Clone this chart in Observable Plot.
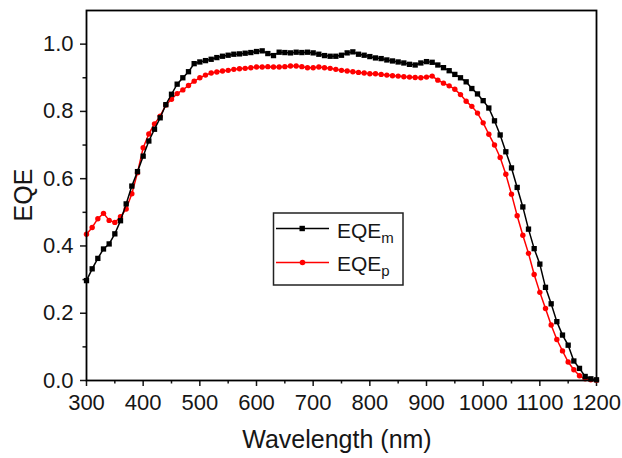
<!DOCTYPE html>
<html>
<head>
<meta charset="utf-8">
<script src="https://cdn.jsdelivr.net/npm/d3@7"></script>
<script src="https://cdn.jsdelivr.net/npm/@observablehq/plot@0.6"></script>
<style>
  html, body { margin: 0; padding: 0; background: #fff; }
  #chart { width: 622px; height: 458px; }
</style>
</head>
<body>
<div id="chart"></div>
<script>
// Wavelengths (nm), one marker every 10 nm
const wavelength = d3.range(300, 1201, 10);

// EQE_m (black squares)
const eqeM = [
  0.297, 0.332, 0.363, 0.391, 0.406, 0.436, 0.475, 0.525, 0.578, 0.621,
  0.667, 0.712, 0.747, 0.781, 0.820, 0.851, 0.881, 0.900, 0.918, 0.942,
  0.947, 0.951, 0.955, 0.960, 0.964, 0.967, 0.970, 0.971, 0.973, 0.975,
  0.978, 0.980, 0.972, 0.966, 0.976, 0.975, 0.974, 0.976, 0.975, 0.976,
  0.974, 0.970, 0.966, 0.964, 0.964, 0.967, 0.974, 0.977, 0.970, 0.967,
  0.963, 0.959, 0.957, 0.953, 0.950, 0.947, 0.944, 0.940, 0.938, 0.944,
  0.948, 0.946, 0.938, 0.930, 0.921, 0.910, 0.900, 0.888, 0.868, 0.852,
  0.832, 0.810, 0.772, 0.730, 0.680, 0.632, 0.574, 0.516, 0.450, 0.392,
  0.346, 0.277, 0.228, 0.175, 0.135, 0.105, 0.058, 0.036, 0.012, 0.005,
  0.002
];

// EQE_p (red circles)
const eqeP = [
  0.435, 0.455, 0.481, 0.497, 0.476, 0.470, 0.487, 0.510, 0.555, 0.618,
  0.692, 0.733, 0.763, 0.786, 0.819, 0.836, 0.853, 0.864, 0.877, 0.890,
  0.900, 0.908, 0.914, 0.917, 0.920, 0.922, 0.925, 0.927, 0.928, 0.930,
  0.932, 0.932, 0.933, 0.932, 0.932, 0.933, 0.935, 0.935, 0.933, 0.930,
  0.930, 0.932, 0.930, 0.928, 0.925, 0.922, 0.920, 0.918, 0.916, 0.914,
  0.912, 0.912, 0.910, 0.908, 0.906, 0.905, 0.903, 0.902, 0.901, 0.900,
  0.902, 0.905, 0.893, 0.884, 0.876, 0.866, 0.850, 0.830, 0.815, 0.795,
  0.766, 0.732, 0.700, 0.663, 0.613, 0.554, 0.490, 0.432, 0.378, 0.315,
  0.262, 0.214, 0.165, 0.122, 0.088, 0.055, 0.032, 0.014, 0.005, 0.002,
  0.001
];

const xMajor = [300, 400, 500, 600, 700, 800, 900, 1000, 1100, 1200];
const xMinor = [350, 450, 550, 650, 750, 850, 950, 1050, 1150];
const yMajor = [0.0, 0.2, 0.4, 0.6, 0.8, 1.0];
const yMinor = [0.1, 0.3, 0.5, 0.7, 0.9];
const xTitle = "Wavelength (nm)";
const yTitle = "EQE";

const seriesM = wavelength.map((w, i) => ({w, v: eqeM[i]}));
const seriesP = wavelength.map((w, i) => ({w, v: eqeP[i]}));

const FONT = "'Liberation Sans', Arial, Helvetica, sans-serif";
const INK = "#161616";

const chart = Plot.plot({
  width: 622,
  height: 458,
  marginLeft: 86,
  marginRight: 26,
  marginTop: 10,
  marginBottom: 78,
  style: {fontFamily: FONT, fontSize: "22px", color: INK, background: "#fff"},
  x: {domain: [300, 1200]},
  y: {domain: [0, 1.1]},
  marks: [
    Plot.axisX({ticks: xMajor, tickSize: 6, tickPadding: 8, fontSize: 22, label: null, tickFormat: d => String(d), strokeWidth: 1.5}),
    Plot.axisX({ticks: xMinor, tickSize: 3.5, text: null, label: null, strokeWidth: 1.5}),
    Plot.axisY({ticks: yMajor, tickSize: 6, tickPadding: 7, fontSize: 22, label: null, tickFormat: d3.format(".1f"), strokeWidth: 1.5}),
    Plot.axisY({ticks: yMinor, tickSize: 3.5, text: null, label: null, strokeWidth: 1.5}),
    Plot.line(seriesP, {x: "w", y: "v", stroke: "#ff0000", strokeWidth: 1.5}),
    Plot.dot(seriesP, {x: "w", y: "v", fill: "#ff0000", r: 2.7, symbol: "circle"}),
    Plot.line(seriesM, {x: "w", y: "v", stroke: "#000", strokeWidth: 1.5}),
    Plot.dot(seriesM, {x: "w", y: "v", fill: "#000", r: 3.0, symbol: "square"}),
    Plot.frame({stroke: "#000", strokeWidth: 1.8})
  ]
});

document.getElementById("chart").appendChild(chart);

const svg = d3.select(chart);

// Axis titles
svg.append("text").attr("x", 337).attr("y", 448)
  .attr("text-anchor", "middle").attr("font-family", FONT).attr("font-size", 25).attr("fill", INK)
  .text(xTitle);
svg.append("text").attr("transform", "translate(32,195) rotate(-90)")
  .attr("text-anchor", "middle").attr("font-family", FONT).attr("font-size", 25).attr("fill", INK)
  .text(yTitle);

// Legend box inside the plot
const lg = svg.append("g").attr("font-family", FONT).attr("text-anchor", "start");
lg.append("rect").attr("x", 273.5).attr("y", 213).attr("width", 129.5).attr("height", 72)
  .attr("fill", "#fff").attr("stroke", "#222").attr("stroke-width", 1.5);
const rows = [
  {color: "#000", label: "EQE", sub: "m", sym: "square", y: 228.5, base: 237.5},
  {color: "#ff0000", label: "EQE", sub: "p", sym: "circle", y: 262.5, base: 271}
];
rows.forEach(r => {
  lg.append("line").attr("x1", 276).attr("x2", 329).attr("y1", r.y).attr("y2", r.y)
    .attr("stroke", r.color).attr("stroke-width", 1.5);
  if (r.sym === "square") {
    lg.append("rect").attr("x", 299.5).attr("y", r.y - 2.7).attr("width", 5.4).attr("height", 5.4).attr("fill", r.color);
  } else {
    lg.append("circle").attr("cx", 302.5).attr("cy", r.y).attr("r", 2.8).attr("fill", r.color);
  }
  const t = lg.append("text").attr("x", 337).attr("y", r.base).attr("font-size", 21).attr("fill", INK);
  t.append("tspan").text(r.label);
  t.append("tspan").attr("font-size", 15).attr("dy", 5).text(r.sub);
});
</script>
</body>
</html>
